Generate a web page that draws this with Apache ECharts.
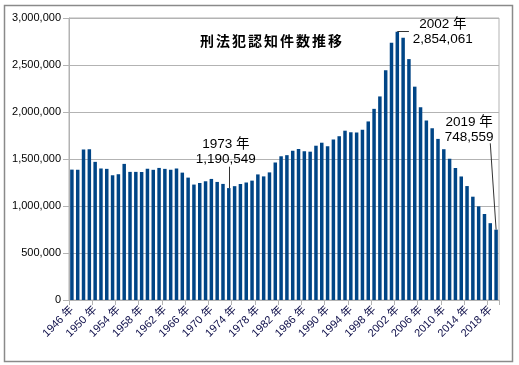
<!DOCTYPE html>
<html>
<head>
<meta charset="utf-8">
<script src="https://cdn.jsdelivr.net/npm/echarts@6/dist/echarts.min.js"></script>
<style>
html,body{margin:0;padding:0;background:#fff;}
#c{width:519px;height:365px;}
</style>
</head>
<body>
<div id="c"></div>
<script>
const years = ["1946 年","1947 年","1948 年","1949 年","1950 年","1951 年","1952 年","1953 年","1954 年","1955 年",
"1956 年","1957 年","1958 年","1959 年","1960 年","1961 年","1962 年","1963 年","1964 年","1965 年",
"1966 年","1967 年","1968 年","1969 年","1970 年","1971 年","1972 年","1973 年","1974 年","1975 年",
"1976 年","1977 年","1978 年","1979 年","1980 年","1981 年","1982 年","1983 年","1984 年","1985 年",
"1986 年","1987 年","1988 年","1989 年","1990 年","1991 年","1992 年","1993 年","1994 年","1995 年",
"1996 年","1997 年","1998 年","1999 年","2000 年","2001 年","2002 年","2003 年","2004 年","2005 年",
"2006 年","2007 年","2008 年","2009 年","2010 年","2011 年","2012 年","2013 年","2014 年","2015 年",
"2016 年","2017 年","2018 年","2019 年"];

const crimes = [1387080,1386020,1599968,1603265,1469662,1399184,1395197,1327000,1338000,1448000,
1363000,1363000,1363000,1395000,1385000,1405000,1395000,1385000,1398000,1355000,
1302000,1228000,1245000,1263000,1288000,1256000,1235000,1190549,1211000,1234307,
1250000,1270000,1336000,1315000,1357461,1463228,1528942,1540894,1588693,1607697,
1581411,1577954,1641310,1673268,1636628,1707877,1742366,1801150,1784432,1782944,
1812119,1899564,2033546,2165626,2443470,2735612,2854061,2790136,2562767,2269572,
2050850,1908836,1826996,1713832,1604019,1502951,1403167,1314140,1212163,1098969,
996120,915042,817338,748559];

const yTicks = [0,500000,1000000,1500000,2000000,2500000,3000000];
const chartTitle = "刑法犯認知件数推移";

// annotations: [year label, value]
const noteMin = ["1973 年", 1190549];
const notePeak = ["2002 年", 2854061];
const noteLast = ["2019 年", 748559];

const fmt = v => Number(v).toLocaleString('en-US');
const latin = "'Liberation Sans','Noto Sans CJK JP',sans-serif";
const titleRich = chartTitle.split('').map(ch => '{c|' + ch + '}').join('');

const chart = echarts.init(document.getElementById('c'), null, {renderer:'canvas'});
chart.setOption({
  animation:false,
  backgroundColor:'#fff',
  title:{
    text: titleRich, left: 266, top: 29, textAlign:'center',
    textStyle:{fontFamily:"'Noto Sans CJK JP',sans-serif", fontSize:14, fontWeight:'bold', color:'#000',
      rich:{c:{fontFamily:"'Noto Sans CJK JP',sans-serif", fontSize:14, fontWeight:'bold', color:'#000', padding:[0,1,0,1]}}}
  },
  graphic:[{type:'rect', shape:{x:4.5,y:5.5,width:508,height:356}, style:{fill:'none', stroke:'#8a8a8a', lineWidth:1.5}, silent:true}],
  grid:{left:69, right:20, top:18, bottom:65, show:true, borderColor:'#b3b3b3', borderWidth:1},
  xAxis:{
    type:'category', data: years,
    axisLine:{lineStyle:{color:'#b3b3b3', width:1}},
    axisTick:{show:true, length:5, lineStyle:{color:'#b3b3b3'}},
    axisLabel:{interval:3, rotate:45, fontSize:11, fontFamily:latin, color:'#0c0c48', margin:8},
    splitLine:{show:false}
  },
  yAxis:{
    type:'value', min: yTicks[0], max: yTicks[yTicks.length-1], interval: yTicks[1]-yTicks[0],
    axisLine:{show:true, lineStyle:{color:'#b3b3b3'}},
    axisTick:{show:true, length:6, lineStyle:{color:'#b3b3b3'}},
    axisLabel:{formatter: fmt, fontSize:11, fontFamily:latin, color:'#000', margin:8},
    splitLine:{lineStyle:{color:'#b3b3b3', width:1}}
  },
  series:[{
    type:'bar', data: crimes, barCategoryGap:'40%',
    itemStyle:{color:'#004586'},
    markLine:{
      silent:true, symbol:['none','none'],
      label:{show:false},
      lineStyle:{color:'#333', width:1, type:'solid'},
      data:[
        [{coord:[noteMin[0], noteMin[1]]},{coord:[noteMin[0], 1418000]}],
        [{coord:[notePeak[0], notePeak[1]]},{coord:["2004 年", notePeak[1]]}],
        [{coord:[noteLast[0], noteLast[1]]},{coord:["2018 年", 1667000]}]
      ]
    },
    markPoint:{
      silent:true, symbol:'circle', symbolSize:0,
      itemStyle:{color:'transparent'},
      label:{show:true, position:'inside', color:'#000', fontFamily:latin, fontSize:13.5, lineHeight:15, align:'center'},
      data:[
        {coord:[noteMin[0], noteMin[1]], label:{formatter: noteMin[0] + "\n" + fmt(noteMin[1]), offset:[-3,-36]}},
        {coord:[notePeak[0], notePeak[1]], label:{formatter: notePeak[0] + "\n" + fmt(notePeak[1]), offset:[45.5,0]}},
        {coord:[noteLast[0], noteLast[1]], label:{formatter: noteLast[0] + "\n" + fmt(noteLast[1]), offset:[-27,-100]}}
      ]
    }
  }]
});
</script>
</body>
</html>
